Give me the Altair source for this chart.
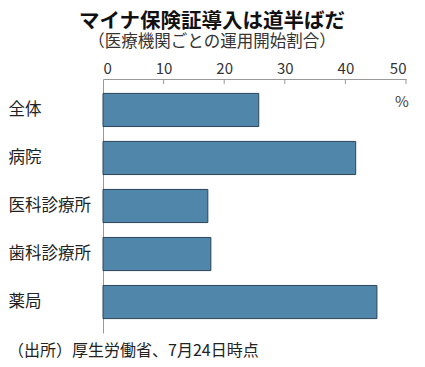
import altair as alt
import pandas as pd

categories = ["全体", "病院", "医科診療所", "歯科診療所", "薬局"]
values = [25.7, 41.7, 17.3, 17.8, 45.2]
tick_values = [0, 10, 20, 30, 40, 50]
title_text = "マイナ保険証導入は道半ばだ"
subtitle_text = "（医療機関ごとの運用開始割合）"
source_text = "（出所）厚生労働省、7月24日時点"
unit_text = "%"

df = pd.DataFrame({"cat": categories, "val": values})
ticks_df = pd.DataFrame({"t": tick_values[1:]})

W, H = 303, 254
JP = "Noto Sans CJK JP"
NUM = "Liberation Sans Narrow, Noto Sans CJK JP"

bars = alt.Chart(df).mark_bar(fill="#4f86aa", stroke="#2b4456", strokeWidth=1).encode(
    x=alt.X("val:Q", scale=alt.Scale(domain=[0, 50], nice=False),
            axis=alt.Axis(orient="top", values=tick_values, title=None, ticks=False, grid=False,
                          domainColor="#999", labelFont=NUM, labelFontSize=15, labelColor="#333",
                          labelPadding=3)),
    y=alt.Y("cat:N", sort=categories, scale=alt.Scale(paddingInner=0.31, paddingOuter=0.3),
            axis=alt.Axis(title=None, ticks=False, domainColor="#999", labelAlign="left",
                          labelPadding=95, labelFontSize=16.5, labelFont=JP, labelColor="#222",
                          labelBaseline="middle"))
)

tickmarks = alt.Chart(ticks_df).mark_rule(color="#999", strokeWidth=1).encode(
    x="t:Q", y=alt.value(0), y2=alt.value(5)
)

def txt(s, x, y, size, align="left", weight="normal", color="#222", font=JP):
    return alt.Chart(pd.DataFrame({"s": [s]})).mark_text(
        align=align, baseline="alphabetic", fontSize=size, fontWeight=weight, color=color, font=font
    ).encode(text="s:N", x=alt.value(x), y=alt.value(y))

title = txt(title_text, 109, -51, 20.5, align="center", weight="bold", color="#111")
subtitle = txt(subtitle_text, 109, -32, 16.5, align="center", color="#333")
unit = txt(unit_text, 299, 28, 15, align="center", color="#444", font=NUM)
source = txt(source_text, -95, 277, 16, color="#222")

chart = alt.layer(bars, tickmarks, title, subtitle, unit, source).properties(
    width=W, height=H,
    padding={"left": 95, "top": 71, "right": 11, "bottom": 30},
    autosize=alt.AutoSizeParams(type="none"),
    background="white",
).configure_view(stroke=None)

chart.save("out.html", embed_options={"renderer": "svg", "actions": False})
